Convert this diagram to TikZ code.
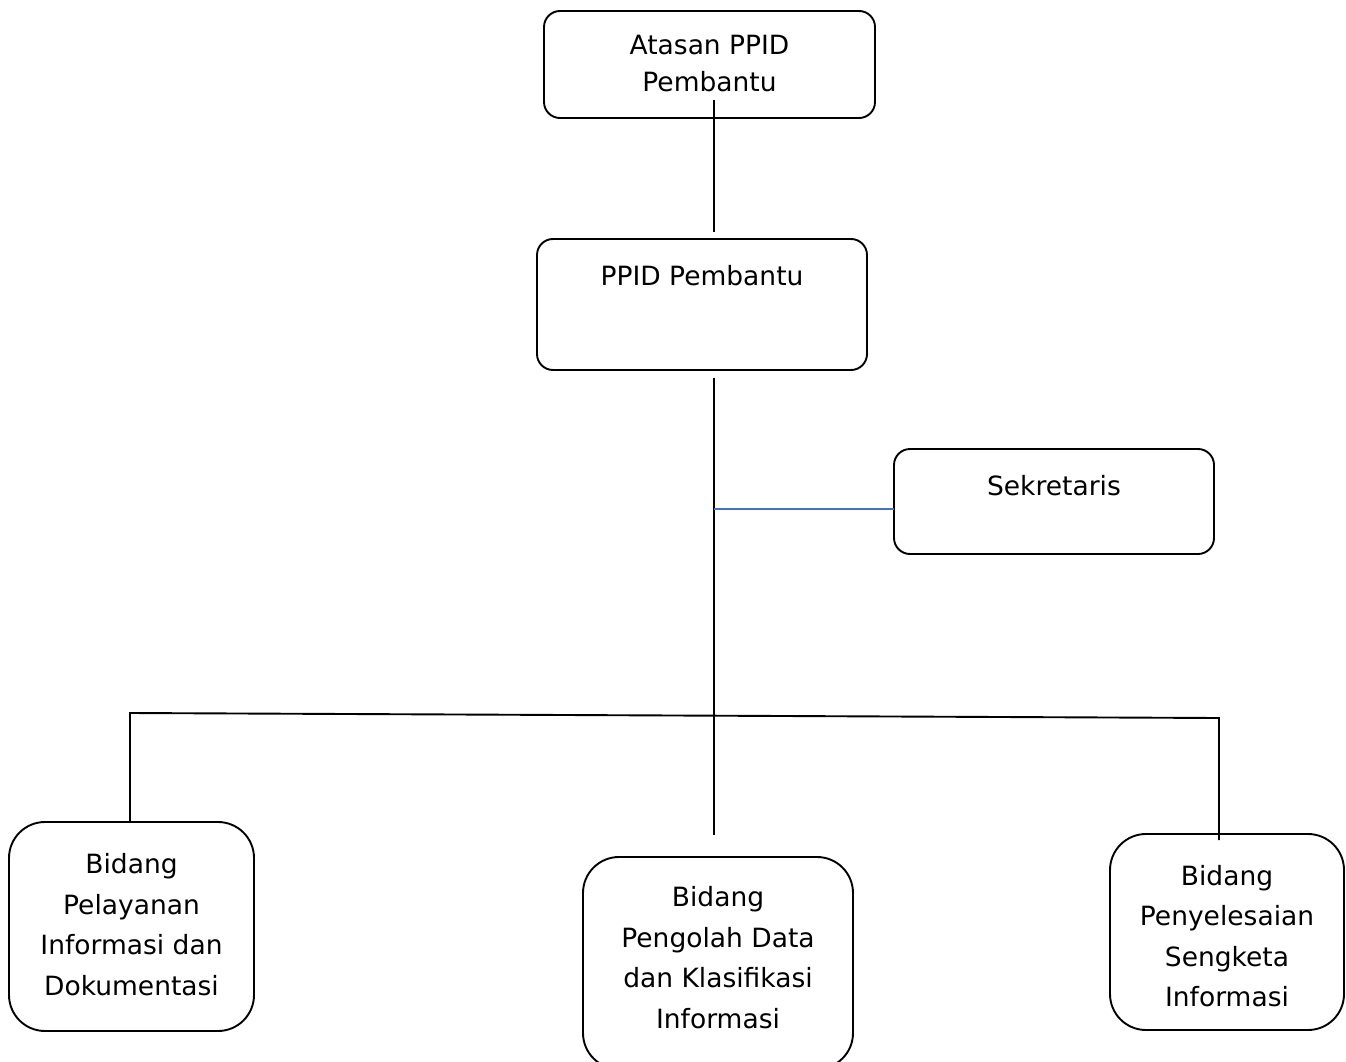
\documentclass[tikz,border=0pt]{standalone}
\usepackage{fontspec}
\setmainfont{DejaVu Sans}
\begin{document}
\begin{tikzpicture}[x=1pt,y=-1pt,
  box/.style={draw=black,line width=1.9pt,rounded corners=#1,inner sep=0pt},
  box/.default=16pt,
  txt/.style={font=\fontsize{26.5}{40.5}\selectfont,align=center,anchor=base,inner sep=0pt},
  conn/.style={draw=black,line width=1.9pt},
  blueconn/.style={draw={rgb,255:red,68;green,114;blue,196},line width=1.9pt}]
\useasboundingbox (0,0) rectangle (1346,1062);
\clip (0,0) rectangle (1346,1062);
% boxes
\node[box, minimum width=331pt, minimum height=107pt] (atasan) at (709.5,64.5) {};
\node[box, minimum width=330pt, minimum height=131pt] (ppid) at (702,304.5) {};
\node[box, minimum width=320pt, minimum height=105pt] (sek) at (1054,501.5) {};
\node[box=36pt, minimum width=245pt, minimum height=209pt] (bid1) at (131.5,926.5) {};
\node[box=36pt, minimum width=270pt, minimum height=212pt] (bid2) at (718,963) {};
\node[box=36pt, minimum width=234pt, minimum height=196pt] (bid3) at (1227,932) {};
% texts (anchor base = baseline of last line)
\node[txt,font=\fontsize{26.5}{37}\selectfont] (tatasan) at (709.5,92) {Atasan PPID\\Pembantu};
\node[txt] (tppid) at (702,285) {PPID Pembantu};
\node[txt] (tsek) at (1054,495) {Sekretaris};
\node[txt] (tbid1) at (131.5,995) {Bidang\\Pelayanan\\Informasi dan\\Dokumentasi};
\node[txt] (tbid2) at (718,1028) {Bidang\\Pengolah Data\\dan Klasifikasi\\Informasi};
\node[txt] (tbid3) at (1227,1006.5) {Bidang\\Penyelesaian\\Sengketa\\Informasi};
% connector points
\coordinate (a1) at (714,100);
\coordinate (a2) at (714,232);
\coordinate (m1) at (714,378);
\coordinate (m2) at (714,835);
\coordinate (s1) at (714,509);
\coordinate (s2) at (894,509);
\coordinate (b1) at (130,822);
\coordinate (b1t) at (130,713);
\coordinate (b3t) at (1219,718);
\coordinate (b3) at (1219,840);
% connectors
\draw[conn] (a1) -- (a2);
\draw[conn] (m1) -- (m2);
\draw[blueconn] (s1) -- (s2);
\draw[conn] (b1) -- (b1t) -- (b3t) -- (b3);
\end{tikzpicture}
\end{document}
